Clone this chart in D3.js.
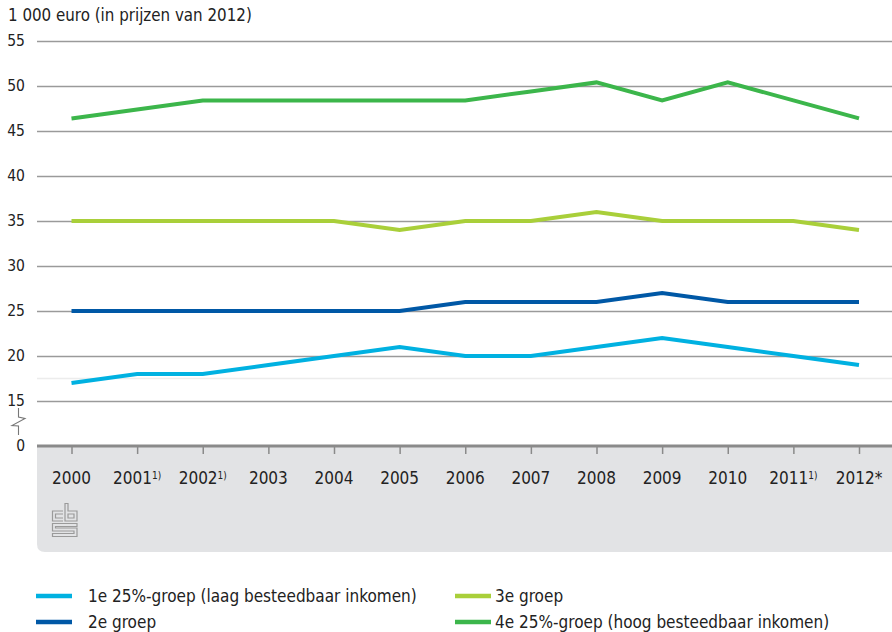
<!DOCTYPE html>
<html><head><meta charset="utf-8">
<script src="https://cdn.jsdelivr.net/npm/d3@7"></script>
<style>
html,body{margin:0;padding:0;background:#fff;}
svg{display:block;}
text{font-family:"DejaVu Sans Condensed","DejaVu Sans",sans-serif;fill:#222;}
</style></head>
<body>
<svg id="chart" width="892" height="632"></svg>
<script>
const years = ["2000","2001","2002","2003","2004","2005","2006","2007","2008","2009","2010","2011","2012"];
const yearNotes = ["","1)","1)","","","","","","","","","1)","*"];
const groep1 = [17,18,18,19,20,21,20,20,21,22,21,20,19];
const groep2 = [25,25,25,25,25,25,26,26,26,27,26,26,26];
const groep3 = [35,35,35,35,35,34,35,35,36,35,35,35,34];
const groep4 = [46.4,47.4,48.4,48.4,48.4,48.4,48.4,49.4,50.4,48.4,50.4,48.4,46.4];
const yTicks = [15,20,25,30,35,40,45,50,55];
const seriesNames = ["1e 25%-groep (laag besteedbaar inkomen)","2e groep","3e groep","4e 25%-groep (hoog besteedbaar inkomen)"];
const seriesColors = ["#00b1e1","#0058a6","#a9cf3a","#3cb64b"];
const title = "1 000 euro (in prijzen van 2012)";

const svg = d3.select("#chart");
const left = 37, right = 892;
const x = d3.scalePoint().domain(years).range([71.5, 859]);
const y = d3.scaleLinear().domain([15,55]).range([401,41]);
const yZero = 446;

// gray box under axis
const bx0 = left, bx1 = right, by0 = 447, by1 = 552, r = 8;
svg.append("path")
  .attr("d", `M${bx0},${by0} H${bx1} V${by1} H${bx0+r} Q${bx0},${by1} ${bx0},${by1-r} Z`)
  .attr("fill", "#e2e3e5");

// title
svg.append("text").attr("x", 8).attr("y", 21).attr("font-size", 16.8).text(title);

// faint line
svg.append("line").attr("x1", left).attr("x2", right).attr("y1", y(17.5)).attr("y2", y(17.5))
  .attr("stroke", "#ececec").attr("stroke-width", 1.5);

// y grid + labels
const yAxis = d3.axisLeft(y).tickValues(yTicks).tickSize(-(right-left)).tickPadding(12);
const gy = svg.append("g").attr("transform", `translate(${left},0)`).call(yAxis);
gy.select(".domain").remove();
gy.selectAll(".tick line").attr("stroke", "#9a9a9a").attr("stroke-width", 1.3);
gy.selectAll(".tick text").attr("font-size", 15.5).attr("fill", "#222")
  .attr("font-family", '"DejaVu Sans Condensed","DejaVu Sans",sans-serif').attr("x", -12);

// zero label
svg.append("text").attr("x", 25).attr("y", yZero).attr("dy", "0.35em").attr("text-anchor", "end")
  .attr("font-size", 15.5).text("0");

// axis break symbol
svg.append("path")
  .attr("d", "M18.5,408 V417 L25,418.5 L12,425.5 L18.5,426 V435")
  .attr("fill", "none").attr("stroke", "#777").attr("stroke-width", 1.1);

// x axis
const xAxis = d3.axisBottom(x).tickSize(8).tickFormat("");
const gx = svg.append("g").attr("transform", `translate(0,${yZero})`).call(xAxis);
gx.select(".domain").remove();
gx.selectAll(".tick line").attr("stroke", "#8a8a8a").attr("stroke-width", 1.5);
svg.append("line").attr("x1", left).attr("x2", right).attr("y1", yZero).attr("y2", yZero)
  .attr("stroke", "#8a8a8a").attr("stroke-width", 3.2);

// x labels
years.forEach((yr, i) => {
  const t = svg.append("text").attr("x", x(yr)).attr("y", 484).attr("text-anchor", "middle")
    .attr("font-size", 17);
  t.append("tspan").text(yr);
  const n = yearNotes[i];
  if (n === "1)") t.append("tspan").attr("font-size", 10).attr("dy", -5).text(n);
  else if (n === "*") t.append("tspan").text(n);
});

// cbs logo
const lg = svg.append("g").attr("transform", "translate(52,503)")
  .attr("fill", "none").attr("stroke", "#9a9a9a").attr("stroke-width", 1.2);
lg.append("path").attr("d", "M11,8 H0.5 V18 H11 M11,11 H3.5 V15 H11");
lg.append("path").attr("d", "M13,0.5 H16 V8 H25 V18 H13 Z M16,11 H22 V15 H16 Z");
lg.append("path").attr("d", "M25,20.5 H0.5 V28 H22 V30.5 H0.5 V33.5 H25 V25 H3.5 V23.5 H25 Z");

// lines
const allSeries = [groep1, groep2, groep3, groep4];
const line = d3.line().x((d,i) => x(years[i])).y(d => y(d));
allSeries.forEach((s, k) => {
  svg.append("path").datum(s).attr("d", line).attr("fill", "none")
    .attr("stroke", seriesColors[k]).attr("stroke-width", 4).attr("stroke-linejoin", "miter");
});

// legend
const legendPos = [[36,596],[36,622],[455,596],[455,622]];
seriesNames.forEach((nm, k) => {
  const [lx, ly] = legendPos[k];
  svg.append("line").attr("x1", lx).attr("x2", lx+36).attr("y1", ly).attr("y2", ly)
    .attr("stroke", seriesColors[k]).attr("stroke-width", 4.5);
  svg.append("text").attr("x", lx + (k < 2 ? 52 : 40)).attr("y", ly).attr("dy", "0.35em").attr("font-size", 17).text(nm);
});
</script>
</body></html>
